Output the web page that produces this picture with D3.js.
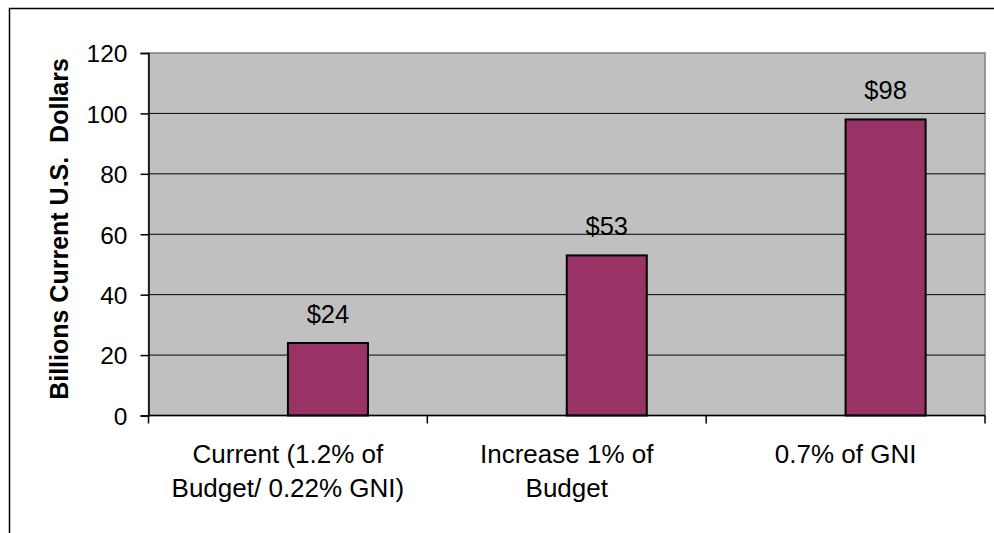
<!DOCTYPE html>
<html>
<head>
<meta charset="utf-8">
<script src="https://d3js.org/d3.v7.min.js"></script>
<style>
  body { margin: 0; background: #fff; }
  svg { display: block; font-family: "Liberation Sans", Arial, sans-serif; }
</style>
</head>
<body>
<script>
// chart values
var categories = ["Current (1.2% of Budget/ 0.22% GNI)", "Increase 1% of Budget", "0.7% of GNI"];
var categoryLines = [["Current (1.2% of", "Budget/ 0.22% GNI)"], ["Increase 1% of", "Budget"], ["0.7% of GNI"]];
var values = [24, 53, 98];
var valueLabels = ["$24", "$53", "$98"];
var yTicks = [0, 20, 40, 60, 80, 100, 120];
var yTitle = "Billions Current U.S.  Dollars";

var W = 994, H = 533;
var margin = {top: 53, right: 9, bottom: 117.5, left: 148.5},
    width = W - margin.left - margin.right,
    height = H - margin.top - margin.bottom;

var svg = d3.select("body").append("svg")
    .attr("width", W)
    .attr("height", H);

// outer chart frame (cut off at right and bottom)
svg.append("path")
    .attr("d", "M9.5," + H + "V8.5H" + W)
    .attr("fill", "none")
    .attr("stroke", "#000")
    .attr("stroke-width", 1.5);

var g = svg.append("g")
    .attr("transform", "translate(" + margin.left + "," + margin.top + ")");

var x0 = d3.scaleBand().domain(categories).range([0, width]).padding(0);
// two slots per category, the first one empty (as in the original)
var x1 = d3.scaleBand().domain(["empty", "value"])
    .range([0, x0.bandwidth()])
    .paddingInner(0).paddingOuter(0.742);
var y = d3.scaleLinear().domain([0, 120]).range([height, 0]);

// plot area
g.append("rect")
    .attr("width", width)
    .attr("height", height)
    .attr("fill", "#c0c0c0")
    .attr("stroke", "#808080")
    .attr("stroke-width", 1.5);

// gridlines
g.selectAll(".grid")
    .data(yTicks.filter(function(d) { return d > 0 && d < 120; }))
  .enter().append("line")
    .attr("x1", 0).attr("x2", width)
    .attr("y1", function(d) { return y(d); })
    .attr("y2", function(d) { return y(d); })
    .attr("stroke", "#000")
    .attr("stroke-width", 1);

// bars
g.selectAll(".bar")
    .data(values)
  .enter().append("rect")
    .attr("x", function(d, i) { return x0(categories[i]) + x1("value"); })
    .attr("y", function(d) { return y(d); })
    .attr("width", x1.bandwidth())
    .attr("height", function(d) { return height - y(d); })
    .attr("fill", "#993366")
    .attr("stroke", "#000")
    .attr("stroke-width", 2);

// value labels
g.selectAll(".vlabel")
    .data(values)
  .enter().append("text")
    .attr("x", function(d, i) { return x0(categories[i]) + x1("value") + x1.bandwidth() / 2; })
    .attr("y", function(d) { return y(d) - 20; })
    .attr("text-anchor", "middle")
    .style("font-size", "25.5px")
    .attr("fill", "#000")
    .text(function(d, i) { return valueLabels[i]; });

// y axis
var yAxis = g.append("g")
    .call(d3.axisLeft(y).tickValues(yTicks).tickSize(8).tickPadding(13));
yAxis.select(".domain").attr("stroke", "#000").attr("stroke-width", 1.5);
yAxis.selectAll(".tick line").attr("stroke", "#000").attr("stroke-width", 1.5);
yAxis.selectAll(".tick text")
    .style("font-size", "24.5px")
    .attr("fill", "#000")
    .attr("dy", "0.36em");

// x axis: ticks at category boundaries
var xAxis = g.append("g")
    .attr("transform", "translate(0," + height + ")");
xAxis.append("line")
    .attr("x1", 0).attr("x2", width)
    .attr("stroke", "#000").attr("stroke-width", 1.5);
xAxis.selectAll(".xtick")
    .data(categories)
  .enter().append("line")
    .attr("x1", function(d) { return x0(d); })
    .attr("x2", function(d) { return x0(d); })
    .attr("y1", 0).attr("y2", 8)
    .attr("stroke", "#000").attr("stroke-width", 1.5);
xAxis.append("line")
    .attr("x1", width).attr("x2", width)
    .attr("y1", 0).attr("y2", 8)
    .attr("stroke", "#000").attr("stroke-width", 1.5);

var xl = xAxis.selectAll(".xlabel")
    .data(categories)
  .enter().append("text")
    .attr("text-anchor", "middle")
    .attr("transform", function(d) { return "translate(" + (x0(d) + x0.bandwidth() / 2) + ",47)"; })
    .style("font-size", "26px")
    .attr("fill", "#000");
xl.selectAll("tspan")
    .data(function(d, i) { return categoryLines[i]; })
  .enter().append("tspan")
    .attr("x", 0)
    .attr("dy", function(d, i) { return i === 0 ? 0 : 34; })
    .text(function(d) { return d; });

// y title
svg.append("text")
    .attr("transform", "translate(68,229) rotate(-90)")
    .attr("text-anchor", "middle")
    .style("font-size", "25px")
    .style("font-weight", "bold")
    .style("white-space", "pre")
    .attr("fill", "#000")
    .text(yTitle);
</script>
</body>
</html>
